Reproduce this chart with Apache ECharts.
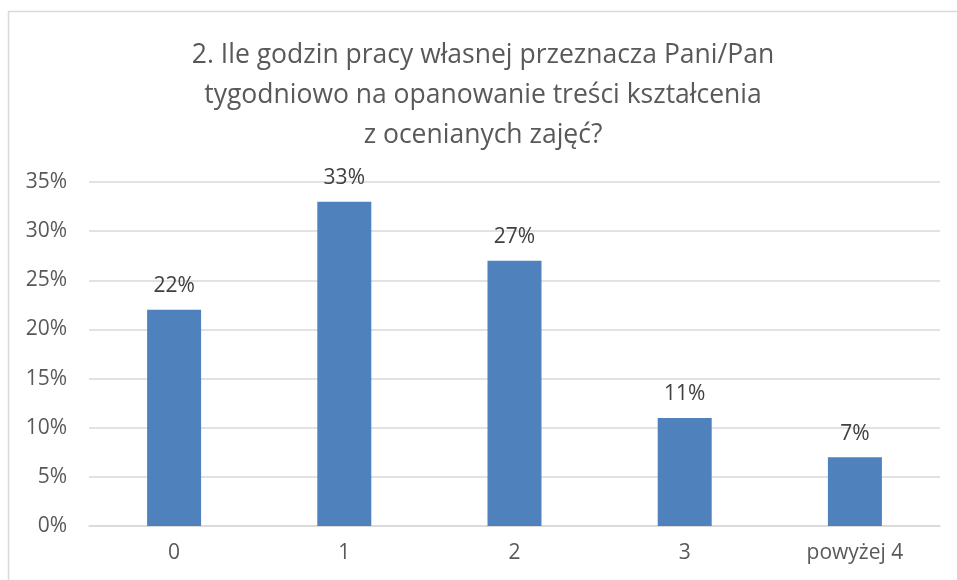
<!DOCTYPE html>
<html>
<head>
<meta charset="utf-8">
<script src="https://cdn.jsdelivr.net/npm/echarts@6/dist/echarts.min.js"></script>
<style>
  html, body { margin: 0; padding: 0; background: #fff; }
  #chart { width: 957px; height: 580px; }
</style>
</head>
<body>
<div id="chart"></div>
<script>
// Hours of own work per week – share of answers
const categories = ['0', '1', '2', '3', 'powyżej 4'];
const shares = [22, 33, 27, 11, 7];
const yTicks = [0, 5, 10, 15, 20, 25, 30, 35];

const titleText = '2. Ile godzin pracy własnej przeznacza Pani/Pan\ntygodniowo na opanowanie treści kształcenia\nz ocenianych zajęć?';

const chart = echarts.init(document.getElementById('chart'), null, { renderer: 'canvas' });
const fontFamily = '"Open Sans", "Noto Sans", "DejaVu Sans", sans-serif';

chart.setOption({
  backgroundColor: '#fff',
  animation: false,
  graphic: [{
    type: 'rect',
    shape: { x: 8.5, y: 11.5, width: 1000, height: 1000 },
    style: { fill: 'none', stroke: '#d9d9d9', lineWidth: 1.5 },
    silent: true
  }],
  title: {
    text: titleText,
    left: 478,
    textAlign: 'center',
    top: 30,
    textStyle: {
      fontFamily: fontFamily,
      fontSize: 26.5,
      fontWeight: 'normal',
      color: '#595959',
      lineHeight: 40
    }
  },
  grid: { left: 89, right: 17, top: 182, bottom: 54, containLabel: false },
  xAxis: {
    type: 'category',
    data: categories,
    axisLine: { show: true, lineStyle: { color: '#d9d9d9', width: 1.5 } },
    axisTick: { show: false },
    axisLabel: { color: '#595959', fontSize: 21, fontFamily: fontFamily, margin: 17 }
  },
  yAxis: {
    type: 'value',
    min: yTicks[0],
    max: yTicks[yTicks.length - 1],
    interval: 5,
    axisLine: { show: false },
    axisTick: { show: false },
    axisLabel: {
      color: '#595959', fontSize: 21, fontFamily: fontFamily, margin: 22,
      formatter: v => v + '%'
    },
    splitLine: { lineStyle: { color: '#d9d9d9', width: 1.5 } }
  },
  series: [{
    type: 'bar',
    data: shares,
    barWidth: 54,
    itemStyle: { color: '#4f81bd' },
    label: {
      show: true,
      position: 'top',
      distance: 13,
      color: '#404040',
      fontSize: 21,
      fontFamily: fontFamily,
      formatter: p => p.value + '%'
    }
  }]
});
</script>
</body>
</html>
